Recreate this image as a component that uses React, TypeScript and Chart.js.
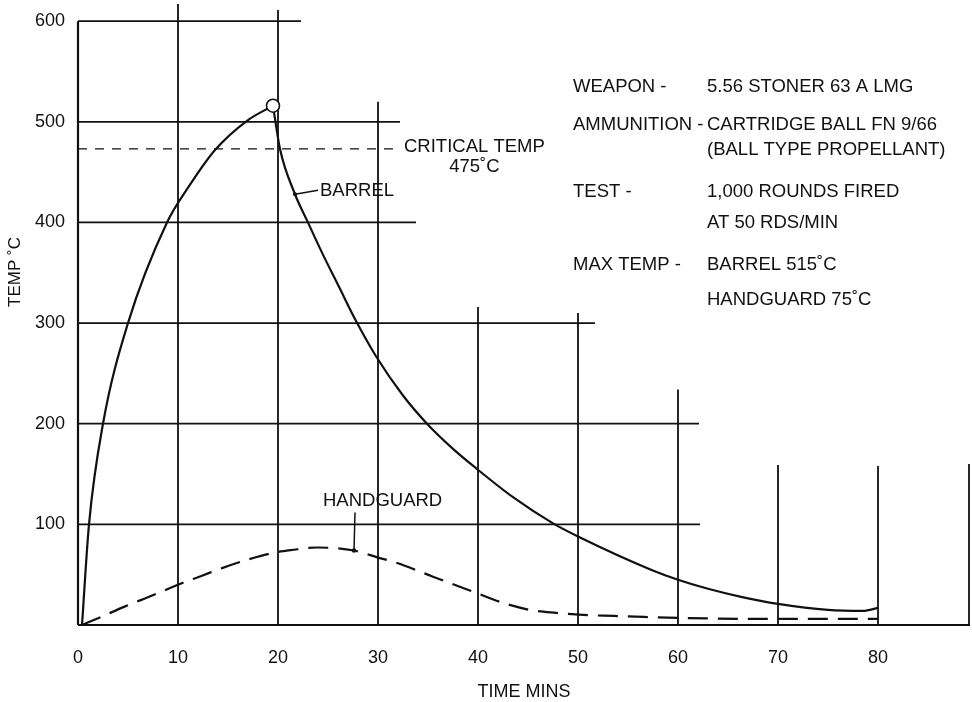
import React, { useEffect, useRef } from "react";
import { Chart, registerables } from "chart.js";

Chart.register(...registerables);

// ---------- data ----------
const xTickValues = [0, 10, 20, 30, 40, 50, 60, 70, 80];
const yTickValues = [100, 200, 300, 400, 500, 600];

const barrelTime = [0.4, 1.1, 2.5, 5.0, 8.9, 11.1, 13.7, 16.9, 19.5, 20.2, 21.7, 22.9, 24.4, 26.1, 27.7, 29.8, 32.5, 34.9, 37.5, 39.9, 43.5, 47.5, 50, 57.3, 60, 63, 66.3, 70, 75, 78.5, 80];
const barrelTemp = [0, 100, 200, 300, 400, 436, 472, 501, 516, 473, 428, 402, 370, 336, 304, 267, 228, 200, 175, 155, 127, 101, 88, 55, 45, 36, 28, 21, 15, 14, 17];
const barrelPeakIndex = 8;

const handguardTime = [0.4, 2.3, 4.6, 7.6, 10, 12.4, 14.4, 17, 19.7, 21.4, 23.9, 27.6, 30, 31.8, 35.5, 39.8, 42.5, 45.2, 47.8, 50.5, 53.6, 56.6, 60, 70, 80];
const handguardTemp = [0, 8, 18, 30, 40, 49, 56.5, 65, 72, 74.5, 77, 74, 67, 62, 48, 32, 22, 15, 12, 10, 9, 8, 7, 6, 6];

const criticalTempLine = 473;
const criticalLineEnd = 31.7;
const criticalLabel = ["CRITICAL TEMP", "475˚C"];

// grid lines of the original drawing (each has its own extent)
const hGridValues = [100, 200, 300, 400, 500, 600];
const hGridEnds = [62.2, 62.1, 51.7, 33.8, 32.2, 22.3];
const vGridValues = [10, 20, 30, 40, 50, 60, 70, 80];
const vGridTops = [617, 611, 520, 316, 310, 234, 159, 158];
const rightEdgeTop = 160;
const yAxisTop = 600;

const barrelLabel = "BARREL";
const barrelLabelAt = [21.7, 428];
const handguardLabel = "HANDGUARD";
const handguardLabelAt = [27.6, 74];

const infoKeys = ["WEAPON -", "AMMUNITION -", "TEST -", "MAX TEMP -"];
const infoLines = [
  ["5.56 STONER 63 A LMG"],
  ["CARTRIDGE BALL FN 9/66", "(BALL TYPE PROPELLANT)"],
  ["1,000 ROUNDS FIRED", "AT 50 RDS/MIN"],
  ["BARREL 515˚C", "HANDGUARD 75˚C"],
];

const xTitle = "TIME MINS";
const yTitle = "TEMP ˚C";

// ---------- styling ----------
const INK = "#111";
const FONT = '"Liberation Sans", Arial, Helvetica, sans-serif';

const infoRowY = [[87], [125, 150], [192, 223], [265, 300]];

const toPts = (xs: number[], ys: number[]) => xs.map((x, i) => ({ x, y: ys[i] }));

const overlay = {
  id: "overlay",
  beforeDatasetsDraw(chart: any) {
    const { ctx, scales } = chart;
    const x = scales.x;
    const y = scales.y;
    const px = (v: number) => x.getPixelForValue(v);
    const py = (v: number) => y.getPixelForValue(v);
    const line = (x1: number, y1: number, x2: number, y2: number) => {
      ctx.beginPath();
      ctx.moveTo(x1, y1);
      ctx.lineTo(x2, y2);
      ctx.stroke();
    };
    ctx.save();
    ctx.strokeStyle = INK;
    ctx.lineCap = "butt";
    ctx.lineWidth = 1.8;
    hGridValues.forEach((v, i) => line(px(0), py(v), px(hGridEnds[i]), py(v)));
    vGridValues.forEach((v, i) => line(px(v), py(0), px(v), py(vGridTops[i])));
    line(x.right - 1, py(0), x.right - 1, py(rightEdgeTop));
    ctx.lineWidth = 2.2;
    line(px(0), py(0), px(0), py(yAxisTop));
    line(px(0), py(0), x.right, py(0));

    // critical temperature
    ctx.lineWidth = 1.3;
    ctx.setLineDash([9, 8]);
    const yc = py(criticalTempLine);
    const endPx = px(criticalLineEnd);
    line(px(0), yc, endPx, yc);
    ctx.setLineDash([]);
    ctx.restore();
  },
  afterDatasetsDraw(chart: any) {
    const { ctx, scales } = chart;
    const x = scales.x;
    const y = scales.y;
    const px = (v: number) => x.getPixelForValue(v);
    const py = (v: number) => y.getPixelForValue(v);
    ctx.save();
    ctx.fillStyle = INK;
    ctx.strokeStyle = INK;
    ctx.font = `18.5px ${FONT}`;
    ctx.textBaseline = "middle";

    // peak circle
    const peakX = px(barrelTime[barrelPeakIndex]);
    const peakY = py(barrelTemp[barrelPeakIndex]);
    ctx.lineWidth = 1.6;
    ctx.beginPath();
    ctx.arc(peakX, peakY, 6.5, 0, Math.PI * 2);
    ctx.fillStyle = "#fff";
    ctx.fill();
    ctx.stroke();
    ctx.fillStyle = INK;

    // critical label
    const yc = py(criticalTempLine);
    const left = px(criticalLineEnd) + 9;
    ctx.textAlign = "left";
    const w = ctx.measureText(criticalLabel[0]).width;
    ctx.fillText(criticalLabel[0], left, yc - 2);
    ctx.textAlign = "center";
    ctx.fillText(criticalLabel[1], left + w / 2, yc + 18);

    // barrel label + leader
    const bx = px(barrelLabelAt[0]);
    const by = py(barrelLabelAt[1]);
    ctx.lineWidth = 1.5;
    ctx.beginPath();
    ctx.moveTo(bx, by);
    ctx.lineTo(bx + 23, by - 4);
    ctx.stroke();
    ctx.beginPath();
    ctx.arc(bx, by, 2, 0, Math.PI * 2);
    ctx.fill();
    ctx.textAlign = "left";
    ctx.fillText(barrelLabel, bx + 25, by - 3);

    // handguard label + leader
    const hx = px(handguardLabelAt[0]);
    const hy = py(handguardLabelAt[1]);
    ctx.beginPath();
    ctx.moveTo(hx, hy);
    ctx.lineTo(hx + 1, hy - 38);
    ctx.stroke();
    ctx.beginPath();
    ctx.arc(hx, hy, 2.2, 0, Math.PI * 2);
    ctx.fill();
    ctx.fillText(handguardLabel, hx - 31, hy - 50);

    // info block
    ctx.textAlign = "left";
    infoKeys.forEach((k, i) => {
      ctx.fillText(k, 573, infoRowY[i][0]);
      infoLines[i].forEach((t, j) => ctx.fillText(t, 707, infoRowY[i][j]));
    });

    // axis titles
    ctx.textAlign = "center";
    ctx.font = `18px ${FONT}`;
    ctx.fillText(xTitle, (x.left + x.right) / 2, 692);
    ctx.save();
    ctx.font = `17px ${FONT}`;
    ctx.translate(15, 272);
    ctx.rotate(-Math.PI / 2);
    ctx.fillText(yTitle, 0, 0);
    ctx.restore();
    ctx.restore();
  },
};

export default function App() {
  const ref = useRef<HTMLCanvasElement | null>(null);
  useEffect(() => {
    if (!ref.current) return;
    const barrel = toPts(barrelTime, barrelTemp);
    const chart = new Chart(ref.current, {
      type: "line",
      data: {
        datasets: [
          {
            label: "Barrel (heating)",
            data: barrel.slice(0, barrelPeakIndex + 1),
            borderColor: INK,
            borderWidth: 2.2,
            pointRadius: 0,
            cubicInterpolationMode: "monotone",
          },
          {
            label: "Barrel (cooling)",
            data: barrel.slice(barrelPeakIndex),
            borderColor: INK,
            borderWidth: 2.2,
            pointRadius: 0,
            cubicInterpolationMode: "monotone",
          },
          {
            label: "Handguard",
            data: toPts(handguardTime, handguardTemp),
            borderColor: INK,
            borderWidth: 2.2,
            borderDash: [20, 10],
            pointRadius: 0,
            cubicInterpolationMode: "monotone",
          },
        ],
      },
      options: {
        responsive: false,
        animation: false,
        devicePixelRatio: 1,
        layout: { padding: { left: 0, right: 2, top: 0, bottom: 0 } },
        plugins: { legend: { display: false }, tooltip: { enabled: false } },
        scales: {
          x: {
            type: "linear",
            min: 0,
            max: 89.2,
            grid: { display: false, drawTicks: false },
            border: { display: false },
            ticks: { color: INK, font: { family: FONT, size: 18 }, padding: 22, maxRotation: 0, autoSkip: false },
            afterBuildTicks: (s: any) => {
              s.ticks = xTickValues.map((v) => ({ value: v }));
            },
            afterFit: (s: any) => {
              s.height = 77;
              s.paddingLeft = 0;
              s.paddingRight = 0;
            },
          },
          y: {
            type: "linear",
            min: 0,
            max: 621,
            grid: { display: false, drawTicks: false },
            border: { display: false },
            ticks: { color: INK, font: { family: FONT, size: 18 }, padding: 13 },
            afterBuildTicks: (s: any) => {
              s.ticks = yTickValues.map((v) => ({ value: v }));
            },
            afterFit: (s: any) => {
              s.width = 78;
              s.paddingTop = 0;
              s.paddingBottom = 0;
            },
          },
        },
      },
      plugins: [overlay],
    } as any);
    return () => chart.destroy();
  }, []);
  return (
    <div style={{ position: "fixed", left: 0, top: 0, width: 972, height: 702, background: "#fff" }}>
      <canvas ref={ref} width={972} height={702} style={{ display: "block" }} />
    </div>
  );
}
